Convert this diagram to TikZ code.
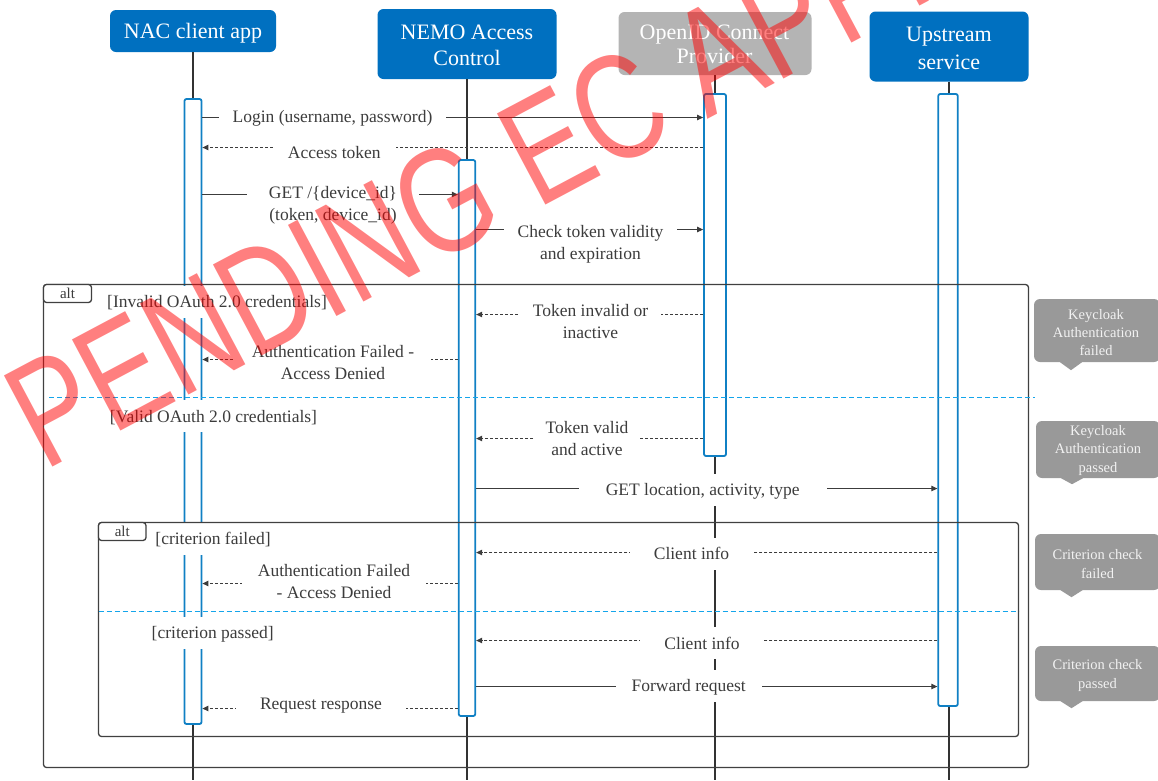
\documentclass[tikz,border=0pt]{standalone}
\usepackage{fontspec}
\setmainfont{Liberation Serif}
\newfontfamily\markfont{Liberation Sans}
\usetikzlibrary{arrows.meta}

\definecolor{partblue}{RGB}{0,112,192}
\definecolor{partgray}{RGB}{180,180,180}
\definecolor{barblue}{RGB}{16,128,196}
\definecolor{lifegray}{RGB}{50,50,50}
\definecolor{msggray}{RGB}{60,60,60}
\definecolor{txtgray}{RGB}{60,60,60}
\definecolor{framegray}{RGB}{64,64,64}
\definecolor{divblue}{RGB}{20,165,235}
\definecolor{notegray}{RGB}{153,153,153}

\begin{document}
\begin{tikzpicture}[x=1pt,y=-1pt,
  part/.style={rectangle, rounded corners=6pt, fill=partblue, inner sep=0pt},
  partoff/.style={part, fill=partgray},
  parttext/.style={text=white, align=center, inner sep=0pt,
    font=\fontsize{22}{26}\selectfont},
  life/.style={draw=lifegray, line width=2pt},
  bar/.style={rectangle, rounded corners=2pt, draw=barblue, line width=1.8pt,
    fill=white, inner sep=0pt},
  msg/.style={draw=msggray, line width=1pt, -{Triangle[length=6pt,width=5.5pt]}},
  reply/.style={msg, dash pattern=on 3pt off 2pt},
  mtext/.style={fill=white, text=txtgray, align=center, inner ysep=7pt,
    font=\fontsize{17.5}{22}\selectfont},
  mline/.style={mtext, text height=12pt, text depth=0pt, inner ysep=10pt},
  guard/.style={mline, inner xsep=2pt},
  frame/.style={draw=framegray, line width=1.3pt, rounded corners=3pt},
  tab/.style={rectangle, draw=framegray, line width=1.3pt, rounded corners=3pt,
    fill=white, text=txtgray, inner sep=0pt, font=\fontsize{15}{16}\selectfont},
  divider/.style={draw=divblue, line width=1.4pt, dash pattern=on 5pt off 3pt},
  note/.style={rectangle, rounded corners=6pt, fill=notegray, inner sep=0pt},
  notetext/.style={text=white!95!black, align=center, inner sep=0pt,
    font=\fontsize{14.5}{18.3}\selectfont}
]
\useasboundingbox (0,0) rectangle (1158,780);

% participants
\node[part, minimum width=166pt, minimum height=42pt] (nac) at (193,31) {};
\node[part, minimum width=179pt, minimum height=70pt] (nemo) at (467,44) {};
\node[partoff, minimum width=193pt, minimum height=63pt] (oidc) at (715,43.5) {};
\node[part, minimum width=159pt, minimum height=70pt] (ups) at (949,46.5) {};
\node[parttext] (nac-t) at ([yshift=-2.5pt]nac.center) {NAC client app};
\node[parttext] (nemo-t) at ([yshift=-1.5pt]nemo.center) {NEMO Access\\Control};
\node[parttext, font=\fontsize{22}{24}\selectfont] (oidc-t) at ([xshift=-0.5pt,yshift=-0.5pt]oidc.center) {OpenID Connect\\Provider};
\node[parttext, font=\fontsize{22}{28}\selectfont] (ups-t) at ([yshift=-1.5pt]ups.center) {Upstream\\service};

% lifelines
\coordinate (bottom) at (0,780);
\draw[life] (nac.south) -- (nac.south |- bottom);
\draw[life] (nemo.south) -- (nemo.south |- bottom);
\draw[life] (oidc.south) -- (oidc.south |- bottom);
\draw[life] (ups.south) -- (ups.south |- bottom);

% activation bars
\node[bar, minimum width=17pt, minimum height=625pt] (nacbar) at (193,411.5) {};
\node[bar, minimum width=16.5pt, minimum height=556pt] (nemobar) at (467,438) {};
\node[bar, minimum width=22pt, minimum height=362pt] (oidcbar) at (715,275) {};
\node[bar, minimum width=19.5pt, minimum height=612pt] (upsbar) at (948,400) {};

% message levels
\coordinate (y1) at (0,117.5);
\coordinate (y2) at (0,147.5);
\coordinate (y3) at (0,194.5);
\coordinate (y4) at (0,229.5);
\coordinate (y5) at (0,314.5);
\coordinate (y6) at (0,359.5);
\coordinate (y7) at (0,438.5);
\coordinate (y8) at (0,488.5);
\coordinate (y9) at (0,552.5);
\coordinate (y10) at (0,583.5);
\coordinate (y11) at (0,640.5);
\coordinate (y12) at (0,686.5);
\coordinate (y13) at (0,708.5);

% messages
\draw[msg] (nacbar.east |- y1) -- (oidcbar.west |- y1);
\draw[reply] (oidcbar.west |- y2) -- (nacbar.east |- y2);
\draw[msg] (nacbar.east |- y3) -- (nemobar.west |- y3);
\draw[msg] (nemobar.east |- y4) -- (oidcbar.west |- y4);
\draw[reply] (oidcbar.west |- y5) -- (nemobar.east |- y5);
\draw[reply] (nemobar.west |- y6) -- (nacbar.east |- y6);
\draw[reply] (oidcbar.west |- y7) -- (nemobar.east |- y7);
\draw[msg] (nemobar.east |- y8) -- (upsbar.west |- y8);
\draw[reply] (upsbar.west |- y9) -- (nemobar.east |- y9);
\draw[reply] (nemobar.west |- y10) -- (nacbar.east |- y10);
\draw[reply] (upsbar.west |- y11) -- (nemobar.east |- y11);
\draw[msg] (nemobar.east |- y12) -- (upsbar.west |- y12);
\draw[reply] (nemobar.west |- y13) -- (nacbar.east |- y13);

% message labels
\node[mline, inner xsep=14pt] (t1) at (332.5,116.5) {Login (username, password)};
\node[mline, inner xsep=15pt] (t2) at (334.3,152.5) {Access token};
\node[mtext, inner xsep=22pt] (t3) at (333,205) {GET /\{device\_id\}\\(token, device\_id)};
\node[mtext, inner xsep=14pt] (t4) at (590.5,244) {Check token validity\\and expiration};
\node[mtext, inner xsep=13pt] (t5) at (590.5,322) {Token invalid or\\inactive};
\node[mtext, inner xsep=17pt] (t6) at (333,363) {Authentication Failed -\\Access Denied};
\node[mtext, inner xsep=12pt] (t7) at (587,438.5) {Token valid\\and active};
\node[mline, inner xsep=27pt] (t8) at (702.7,489.5) {GET location, activity, type};
\node[mline, inner xsep=24pt] (t9) at (691.5,553.5) {Client info};
\node[mtext, inner xsep=16pt] (t10) at (334,581.5) {Authentication Failed\\- Access Denied};
\node[mline, inner xsep=24pt] (t11) at (702,643) {Client info};
\node[mline, inner xsep=16pt] (t12) at (688.7,685.5) {Forward request};
\node[mline, inner xsep=24pt] (t13) at (321,703.5) {Request response};

% guards
\node[guard] (g1) at (217,301.5) {[Invalid OAuth 2.0 credentials]};
\node[guard] (g2) at (213.5,416) {[Valid OAuth 2.0 credentials]};
\node[guard] (g3) at (213,538.5) {[criterion failed]};
\node[guard] (g4) at (212.7,632.5) {[criterion passed]};

% combined fragments
\draw[frame] (43.5,284.5) rectangle (1028.5,767.5);
\node[tab, minimum width=48pt, minimum height=18pt] (alt1) at (67.5,293.5) {alt};
\draw[divider] (49,397.5) -- (1035,397.5);
\draw[frame] (98.5,522.5) rectangle (1018.5,736.5);
\node[tab, minimum width=47.5pt, minimum height=18pt] (alt2) at (122.25,531.5) {alt};
\draw[divider] (98.5,611.5) -- (1018.5,611.5);

% notes
\node[note, minimum width=126pt, minimum height=63pt] (n1) at (1097,330.5) {};
\fill[notegray] ([xshift=-37pt]n1.south) -- ([xshift=-26pt,yshift=-8pt]n1.south) -- ([xshift=-15pt]n1.south) -- cycle;
\node[notetext] (n1-t) at ([xshift=-1pt,yshift=-2pt]n1.center) {Keycloak\\Authentication\\failed};
\node[note, minimum width=124pt, minimum height=57pt] (n2) at (1098,449.5) {};
\fill[notegray] ([xshift=-37pt]n2.south) -- ([xshift=-26pt,yshift=-6pt]n2.south) -- ([xshift=-15pt]n2.south) -- cycle;
\node[notetext] (n2-t) at ([xshift=0pt,yshift=-1pt]n2.center) {Keycloak\\Authentication\\passed};
\node[note, minimum width=125pt, minimum height=56pt] (n3) at (1097.5,562) {};
\fill[notegray] ([xshift=-37pt]n3.south) -- ([xshift=-26pt,yshift=-7pt]n3.south) -- ([xshift=-15pt]n3.south) -- cycle;
\node[notetext] (n3-t) at ([xshift=0pt,yshift=-2pt]n3.center) {Criterion check\\failed};
\node[note, minimum width=125pt, minimum height=55pt] (n4) at (1097.5,673.5) {};
\fill[notegray] ([xshift=-37pt]n4.south) -- ([xshift=-26pt,yshift=-7pt]n4.south) -- ([xshift=-15pt]n4.south) -- cycle;
\node[notetext] (n4-t) at ([xshift=0pt,yshift=-2pt]n4.center) {Criterion check\\passed};

% watermark: condensed capitals on a rising baseline
\begin{scope}
  \clip (0,0) rectangle (1158,780);
  \node[anchor=base west, rotate=28, xscale=0.77, inner sep=0pt, text=red, text opacity=0.5,
    font=\markfont\fontsize{150}{150}\selectfont] (wm) at (44,472) {PENDING EC APPROVAL};
\end{scope}
\end{tikzpicture}
\end{document}
